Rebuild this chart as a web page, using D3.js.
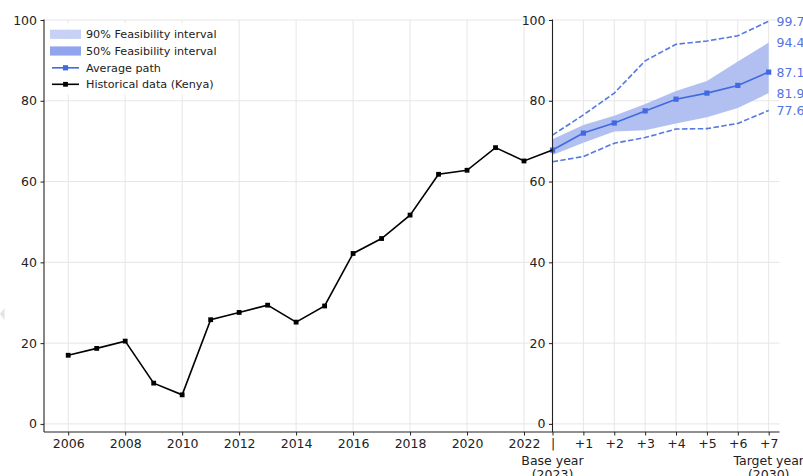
<!DOCTYPE html>
<html>
<head>
<meta charset="utf-8">
<script src="https://cdn.jsdelivr.net/npm/d3@7"></script>
<style>
  html, body { margin: 0; padding: 0; background: #fff; }
  svg { display: block; font-family: "DejaVu Sans", sans-serif; }
</style>
</head>
<body>
<svg id="chart" width="803" height="476"></svg>
<script>
// Historical series (Kenya)
const years = [2006,2007,2008,2009,2010,2011,2012,2013,2014,2015,2016,2017,2018,2019,2020,2021,2022,2023];
const historical = [17.0,18.7,20.5,10.1,7.2,25.8,27.6,29.4,25.2,29.2,42.2,45.9,51.7,61.8,62.8,68.4,65.1,67.8];

// Projection from the base year (step 0 = 2023) to the target year (+7 = 2030)
const steps = [0,1,2,3,4,5,6,7];
const avgPath = [67.8,72.0,74.5,77.5,80.4,81.9,83.8,87.1];
const band50Low = [66.6,69.6,72.4,72.7,74.4,75.9,78.2,81.9];
const band50High = [70.5,74.0,76.3,79.2,82.4,84.9,89.7,94.4];
const band90Low = [64.9,66.2,69.5,70.9,73.0,73.1,74.4,77.6];
const band90High = [71.5,76.5,81.9,89.9,94.0,94.8,96.1,99.7];

// Tick labels
const yTicks = [0,20,40,60,80,100];
const yearTicks = [2006,2008,2010,2012,2014,2016,2018,2020,2022];
const stepLabels = ["|","+1","+2","+3","+4","+5","+6","+7"];
const legendLabels = ["90% Feasibility interval","50% Feasibility interval","Average path","Historical data (Kenya)"];

const svg = d3.select("#chart");
const BLUE = "#4169e1";
const GRID = "#e6e6e6";
const INK = "#222";
const FS = 12.5;

const y = d3.scaleLinear().domain([-2, 100]).range([432, 20]);
const xHist = d3.scaleLinear().domain([2005.15, 2023]).range([44, 552.5]);
const xProj = d3.scaleLinear().domain([0, 7.35]).range([552.5, 779.5]);

// faint marker at the far left edge
svg.append("path").attr("d", "M0,314 L4.5,308 L4.5,320 Z").attr("fill", "#e3e3e3");

// ---- grids ----
const grid = svg.append("g");
yTicks.forEach(v => {
  grid.append("line").attr("x1", 44).attr("x2", 779.5).attr("y1", y(v)).attr("y2", y(v))
    .attr("stroke", GRID).attr("stroke-width", 1);
});
yearTicks.forEach(v => {
  grid.append("line").attr("x1", xHist(v)).attr("x2", xHist(v)).attr("y1", 20).attr("y2", 432)
    .attr("stroke", GRID).attr("stroke-width", 1);
});
steps.forEach(v => {
  grid.append("line").attr("x1", xProj(v)).attr("x2", xProj(v)).attr("y1", 20).attr("y2", 432)
    .attr("stroke", GRID).attr("stroke-width", 1);
});

// ---- projection bands and lines ----
const proj = svg.append("g");
const area50 = d3.area().x((d, i) => xProj(steps[i])).y0((d, i) => y(band50Low[i])).y1((d, i) => y(band50High[i]));
proj.append("path").datum(steps).attr("d", area50).attr("fill", "#b1c0f0");

const lineProj = arr => d3.line().x((d, i) => xProj(steps[i])).y((d, i) => y(arr[i]))(steps);
[band90High, band90Low].forEach(arr => {
  proj.append("path").attr("d", lineProj(arr)).attr("fill", "none")
    .attr("stroke", BLUE).attr("stroke-width", 1.6).attr("stroke-dasharray", "5.5,2.4").attr("opacity", 0.9);
});
proj.append("path").attr("d", lineProj(avgPath)).attr("fill", "none")
  .attr("stroke", BLUE).attr("stroke-width", 1.6);
proj.selectAll("rect.avg").data(steps).join("rect")
  .attr("x", d => xProj(d) - 2.6).attr("y", (d, i) => y(avgPath[i]) - 2.6)
  .attr("width", 5.2).attr("height", 5.2).attr("fill", BLUE);

// ---- historical line ----
const histLine = d3.line().x((d, i) => xHist(years[i])).y((d, i) => y(historical[i]));
svg.append("path").attr("d", histLine(years)).attr("fill", "none")
  .attr("stroke", "#000").attr("stroke-width", 1.6);
svg.selectAll("rect.hist").data(years.slice(0, years.length - 1)).join("rect")
  .attr("x", d => xHist(d) - 2.4).attr("y", (d, i) => y(historical[i]) - 2.4)
  .attr("width", 4.8).attr("height", 4.8).attr("fill", "#000");

// ---- axes ----
function styleAxis(g) {
  g.selectAll("text").attr("font-size", FS).attr("fill", INK).attr("font-family", "DejaVu Sans, sans-serif");
  g.selectAll("line").attr("stroke", INK);
  g.select(".domain").remove();
}

svg.append("g").attr("transform", "translate(44,0)")
  .call(d3.axisLeft(y).tickValues(yTicks).tickSize(3.5).tickPadding(3.5)).call(styleAxis);
svg.append("g").attr("transform", "translate(552.5,0)")
  .call(d3.axisLeft(y).tickValues(yTicks).tickSize(3.5).tickPadding(3.5)).call(styleAxis);

svg.append("g").attr("transform", "translate(0,432)")
  .call(d3.axisBottom(xHist).tickValues(yearTicks).tickFormat(d3.format("d")).tickSize(3.5).tickPadding(3.5))
  .call(styleAxis);
svg.append("g").attr("transform", "translate(0,432)")
  .call(d3.axisBottom(xProj).tickValues(steps).tickFormat((d, i) => stepLabels[i]).tickSize(3.5).tickPadding(3.5))
  .call(styleAxis);

// spines
svg.append("line").attr("x1", 44).attr("x2", 44).attr("y1", 19.5).attr("y2", 432).attr("stroke", INK).attr("stroke-width", 1.1);
svg.append("line").attr("x1", 552.5).attr("x2", 552.5).attr("y1", 19.5).attr("y2", 432).attr("stroke", INK).attr("stroke-width", 1.1);
svg.append("line").attr("x1", 44).attr("x2", 779.5).attr("y1", 432).attr("y2", 432).attr("stroke", INK).attr("stroke-width", 1.1);

// base / target year captions
const cap = svg.append("g").attr("font-size", FS).attr("fill", INK).attr("text-anchor", "middle");
[[0, "Base year", "(2023)"], [7, "Target year", "(2030)"]].forEach(([s, a, b]) => {
  cap.append("text").attr("x", xProj(s)).attr("y", 464.5).text(a);
  cap.append("text").attr("x", xProj(s)).attr("y", 479).text(b);
});

// end-of-path value labels
const endLabels = [band90High[7], band50High[7], avgPath[7], band50Low[7], band90Low[7]];
svg.append("g").selectAll("text").data(endLabels).join("text")
  .attr("x", 776.5).attr("y", d => y(d)).attr("dy", "0.36em")
  .attr("font-size", FS).attr("fill", "#5473e4").text(d => d.toFixed(1));

// ---- legend ----
const lg = svg.append("g");
lg.append("rect").attr("x", 46).attr("y", 23).attr("width", 180).attr("height", 72).attr("rx", 3)
  .attr("fill", "#fff").attr("fill-opacity", 0.85);
const rowY = [34.3, 51, 67.8, 84.3];
lg.append("rect").attr("x", 50).attr("y", rowY[0] - 4.6).attr("width", 31).attr("height", 9.2).attr("fill", "#c6d1f5");
lg.append("rect").attr("x", 50).attr("y", rowY[1] - 4.6).attr("width", 31).attr("height", 9.2).attr("fill", "#90a5ee");
lg.append("line").attr("x1", 52).attr("x2", 79).attr("y1", rowY[2]).attr("y2", rowY[2]).attr("stroke", BLUE).attr("stroke-width", 1.6);
lg.append("rect").attr("x", 65.5 - 2.6).attr("y", rowY[2] - 2.6).attr("width", 5.2).attr("height", 5.2).attr("fill", BLUE);
lg.append("line").attr("x1", 52).attr("x2", 79).attr("y1", rowY[3]).attr("y2", rowY[3]).attr("stroke", "#000").attr("stroke-width", 1.6);
lg.append("rect").attr("x", 65.5 - 2.4).attr("y", rowY[3] - 2.4).attr("width", 4.8).attr("height", 4.8).attr("fill", "#000");
lg.selectAll("text").data(legendLabels).join("text")
  .attr("x", 86).attr("y", (d, i) => rowY[i]).attr("dy", "0.36em")
  .attr("font-size", 11.2).attr("fill", INK).text(d => d);
</script>
</body>
</html>
